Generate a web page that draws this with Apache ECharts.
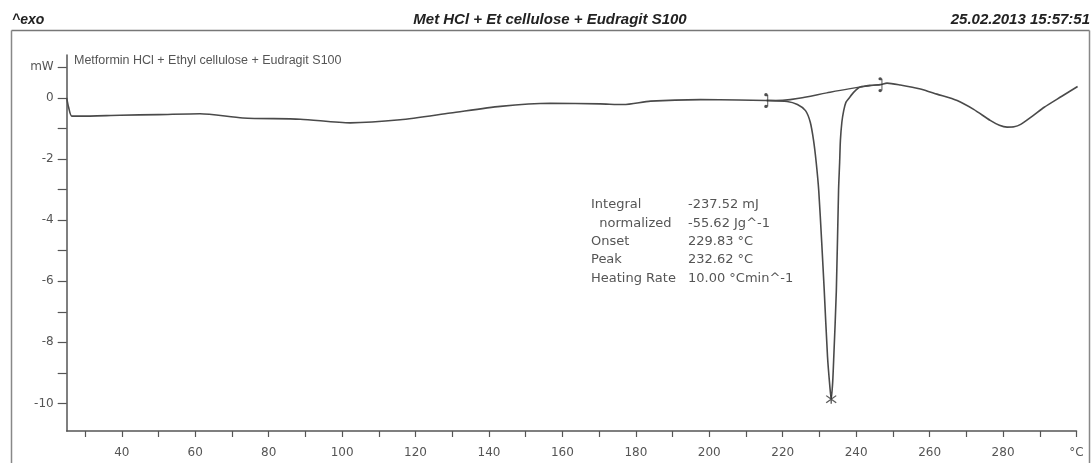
<!DOCTYPE html>
<html>
<head>
<meta charset="utf-8">
<script src="https://cdn.jsdelivr.net/npm/echarts@6/dist/echarts.min.js"></script>
<style>
html,body{margin:0;padding:0;background:#fff;}
#chart{width:1091px;height:463px;}
</style>
</head>
<body>
<div id="chart"></div>
<script>
// DSC curve: temperature (°C) and heat flow (mW)
const temperature = [25, 25.5, 26.4, 28.6, 39.5, 50, 61.3, 73.0, 88.6, 102.2, 115.8, 129.5, 143.1, 156.7, 170.3, 176.6, 184.0, 197.6, 208, 215.5, 221.2, 224.0, 226.2, 227.5, 228.4, 229.1, 229.8, 230.6, 231.3, 232.2, 232.8, 233.2, 233.6, 233.9, 234.6, 235.2, 235.5, 235.7, 236.1, 236.6, 237.2, 238.0, 239.5, 241.1, 244, 246.6, 248.4, 252, 257.5, 262, 267.5, 272, 276.5, 279, 281.1, 283, 284.8, 288, 291.2, 296, 300.3];
const heatFlow    = [0.0, -0.3, -0.6, -0.6, -0.57, -0.55, -0.52, -0.66, -0.7, -0.82, -0.72, -0.5, -0.28, -0.18, -0.2, -0.22, -0.11, -0.06, -0.07, -0.09, -0.12, -0.22, -0.42, -0.8, -1.40, -2.1, -3.03, -4.7, -6.30, -8.48, -9.4, -9.86, -9.3, -8.48, -6.30, -3.03, -2.1, -1.40, -0.8, -0.42, -0.15, -0.02, 0.2, 0.35, 0.41, 0.43, 0.48, 0.42, 0.29, 0.12, -0.09, -0.38, -0.74, -0.9, -0.96, -0.95, -0.87, -0.6, -0.31, 0.05, 0.37];
// integration baseline between the two limit markers
const baselineT  = [215.5, 220, 226, 232, 238, 243, 246.6];
const baselineMW = [-0.09, -0.08, 0.02, 0.16, 0.29, 0.38, 0.43];
// integration limits and peak
const limitT  = [215.5, 246.6];
const limitMW = [-0.09, 0.43];
const peakT = [233.2];
const peakMW = [-9.86];
// axis ticks / labels
const xTicks = [30,40,50,60,70,80,90,100,110,120,130,140,150,160,170,180,190,200,210,220,230,240,250,260,270,280,290,300];
const xLabels = [40,60,80,100,120,140,160,180,200,220,240,260,280,300];
const yTicks = [-10,-9,-8,-7,-6,-5,-4,-3,-2,-1,0,1];
const yLabels = [-10,-8,-6,-4,-2,0,1];
// texts
const headerLeft = '^exo';
const headerTitle = 'Met HCl + Et cellulose + Eudragit S100';
const headerRight = '25.02.2013 15:57:51';
const sampleName = 'Metformin HCl + Ethyl cellulose + Eudragit S100';
const resultNames = ['Integral', '  normalized', 'Onset', 'Peak', 'Heating Rate'];
const resultValues = ['-237.52 mJ', '-55.62 Jg^-1', '229.83 °C', '232.62 °C', '10.00 °Cmin^-1'];

const curve = temperature.map((t, i) => [t, heatFlow[i]]);
const baseline = baselineT.map((t, i) => [t, baselineMW[i]]);
const limits = limitT.map((t, i) => [t, limitMW[i]]);
const peak = peakT.map((t, i) => [t, peakMW[i]]);

const lineColor = '#4a4a4a';
const txtFont = '"DejaVu Sans", Verdana, sans-serif';
const hdrFont = '"Liberation Sans", Arial, sans-serif';

const chart = echarts.init(document.getElementById('chart'));

const graphics = [
  {type:'line', shape:{x1:11.5,y1:30.5,x2:1089.5,y2:30.5}, style:{stroke:'#777', lineWidth:1.5}},
  {type:'line', shape:{x1:11.5,y1:30.5,x2:11.5,y2:463}, style:{stroke:'#888', lineWidth:1.5}},
  {type:'line', shape:{x1:1089.5,y1:30.5,x2:1089.5,y2:463}, style:{stroke:'#888', lineWidth:1.5}},
  {type:'text', x:12, y:20, style:{text:headerLeft, font:'italic bold 14px '+hdrFont, fill:'#222', verticalAlign:'middle'}},
  {type:'text', x:550, y:19.5, style:{text:headerTitle, font:'italic bold 15px '+hdrFont, fill:'#222', align:'center', verticalAlign:'middle'}},
  {type:'text', x:1090, y:19.5, style:{text:headerRight, font:'italic bold 15px '+hdrFont, fill:'#222', align:'right', verticalAlign:'middle'}},
  {type:'text', x:74, y:61, style:{text:sampleName, font:'12.5px '+hdrFont, fill:'#555', verticalAlign:'middle'}}
];
const rowY = [205, 223.5, 242, 260, 278.5];
resultNames.forEach((n, i) => {
  graphics.push({type:'text', x:591, y:rowY[i], style:{text:n, font:'13px '+txtFont, fill:'#555', verticalAlign:'middle'}});
  graphics.push({type:'text', x:688, y:rowY[i], style:{text:resultValues[i], font:'13px '+txtFont, fill:'#555', verticalAlign:'middle'}});
});

const limitSymbol = 'path://M0,1.5 A1.5,1.5 0 1,1 0,1.499 Z M0,12.5 A1.5,1.5 0 1,1 0,12.499 Z M-0.4,1.5 L0.4,1.5 L0.4,12.5 L-0.4,12.5 Z';

chart.setOption({
  animation: false,
  backgroundColor: '#ffffff',
  grid: {left: 66.7, right: 14.5, top: 55, bottom: 32, containLabel: false},
  xAxis: {
    type: 'value', min: 25, max: 300,
    axisLine: {show: true, onZero: false, lineStyle: {color: '#555', width: 1.5}},
    axisTick: {show: true, length: 6, lineStyle: {color: '#555', width: 1.2}, customValues: xTicks},
    axisLabel: {customValues: xLabels, color: '#555', fontFamily: txtFont, fontSize: 12, margin: 16,
      formatter: v => v === 300 ? '°C' : String(v)},
    splitLine: {show: false}
  },
  yAxis: {
    type: 'value', min: -10.9, max: 1.4,
    axisLine: {show: true, onZero: false, lineStyle: {color: '#555', width: 1.5}},
    axisTick: {show: true, length: 9, lineStyle: {color: '#555', width: 1.2}, customValues: yTicks},
    axisLabel: {customValues: yLabels, color: '#555', fontFamily: txtFont, fontSize: 12, margin: 13,
      formatter: v => v === 1 ? 'mW' : String(v)},
    splitLine: {show: false}
  },
  series: [
    {type: 'line', data: curve, smooth: 0.25, showSymbol: false, symbol: 'none',
      lineStyle: {color: lineColor, width: 1.6}, z: 3},
    {type: 'line', data: baseline, smooth: 0.4, showSymbol: false, symbol: 'none',
      lineStyle: {color: lineColor, width: 1.4}, z: 3},
    {type: 'scatter', data: limits, symbol: limitSymbol, symbolSize: [4, 15],
      itemStyle: {color: '#222'}, z: 4},
    {type: 'scatter', data: peak, symbol: 'path://M-5,-4 L5,4 M5,-4 L-5,4 M0,-5 L0,5', symbolSize: [10, 9],
      itemStyle: {color: 'none', borderColor: '#333', borderWidth: 1.3}, z: 4}
  ],
  graphic: graphics
});
</script>
</body>
</html>
